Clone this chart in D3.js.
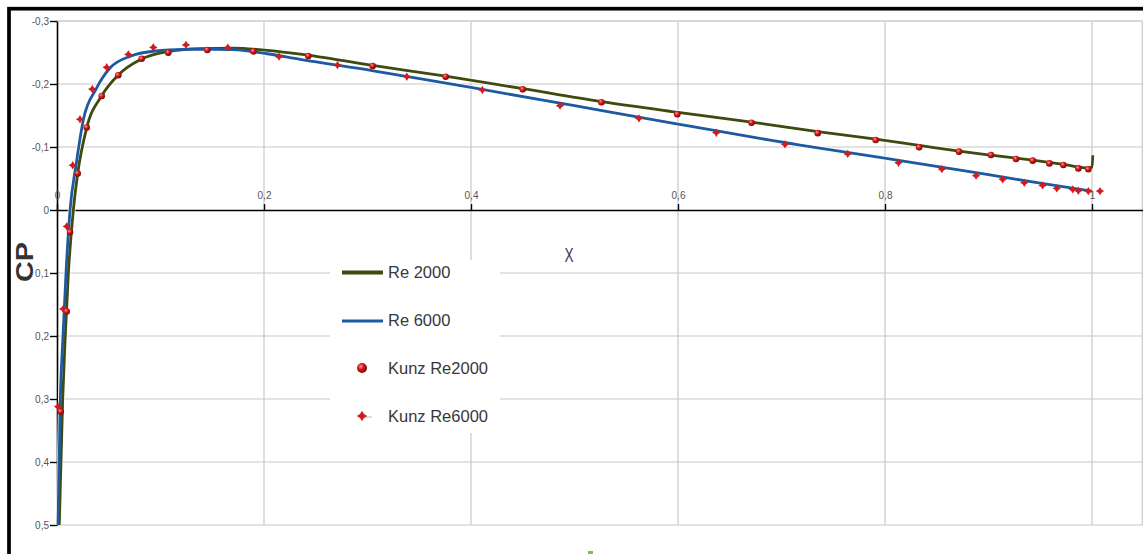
<!DOCTYPE html>
<html>
<head>
<meta charset="utf-8">
<script src="https://cdn.jsdelivr.net/npm/d3@7"></script>
<style>
  html, body { margin: 0; padding: 0; background: #fff; }
  svg { display: block; font-family: "Liberation Sans", Arial, sans-serif; }
</style>
</head>
<body>
<svg id="chart" width="1143" height="554"></svg>
<script>
// Axis ticks
const xTicks = [0, 0.2, 0.4, 0.6, 0.8, 1];
const yTicks = [-0.3, -0.2, -0.1, 0, 0.1, 0.2, 0.3, 0.4, 0.5];

// Series names
const seriesNames = ["Re 2000", "Re 6000", "Kunz Re2000", "Kunz Re6000"];

// Computed pressure coefficient, Re 2000
const re2000X  = [0.0022, 0.0055, 0.008, 0.011, 0.0158, 0.020, 0.0287, 0.0432, 0.0592, 0.0818, 0.1075, 0.138, 0.17, 0.203, 0.235, 0.305, 0.3755, 0.45, 0.526, 0.6, 0.671, 0.735, 0.791, 0.833, 0.8715, 0.9024, 0.9427, 0.9723, 0.996, 1.0, 1.0008];
const re2000Cp = [0.5, 0.3, 0.2, 0.1, 0, -0.058, -0.1306, -0.1814, -0.2143, -0.2397, -0.2515, -0.2562, -0.2568, -0.2535, -0.2475, -0.2295, -0.2125, -0.1925, -0.172, -0.155, -0.1395, -0.1245, -0.1125, -0.1025, -0.0935, -0.0870, -0.079, -0.0725, -0.067, -0.0675, -0.087];

// Computed pressure coefficient, Re 6000
const re6000X  = [0.001, 0.0032, 0.0058, 0.0087, 0.0126, 0.0184, 0.0256, 0.0377, 0.0512, 0.0715, 0.0947, 0.1237, 0.1527, 0.17, 0.203, 0.235, 0.3056, 0.37, 0.4, 0.5, 0.6, 0.718, 0.795, 0.9, 0.95, 1.0];
const re6000Cp = [0.5, 0.3, 0.2, 0.1, 0, -0.0714, -0.1444, -0.192, -0.2254, -0.2444, -0.2524, -0.2548, -0.2551, -0.2545, -0.2480, -0.2390, -0.2210, -0.2030, -0.1945, -0.1655, -0.1365, -0.1030, -0.0835, -0.0560, -0.0425, -0.0300];

// Reference data (Kunz), Re 2000
const kunz2000X  = [0.0036, 0.0094, 0.0126, 0.020, 0.0287, 0.0432, 0.0592, 0.0818, 0.1075, 0.1452, 0.1897, 0.2428, 0.305, 0.3755, 0.45, 0.526, 0.5993, 0.671, 0.735, 0.791, 0.833, 0.8715, 0.9024, 0.9266, 0.9427, 0.9588, 0.9723, 0.9868, 0.9964];
const kunz2000Cp = [0.32, 0.161, 0.035, -0.058, -0.131, -0.181, -0.214, -0.240, -0.2497, -0.254, -0.2518, -0.2444, -0.2286, -0.2116, -0.1915, -0.171, -0.152, -0.1386, -0.122, -0.111, -0.0995, -0.0926, -0.0873, -0.081, -0.0783, -0.074, -0.0714, -0.066, -0.0646];

// Reference data (Kunz), Re 6000
const kunz6000X  = [0.001, 0.006, 0.0094, 0.0152, 0.0222, 0.0341, 0.048, 0.0689, 0.093, 0.1246, 0.165, 0.2145, 0.271, 0.338, 0.411, 0.486, 0.5623, 0.637, 0.7034, 0.764, 0.813, 0.855, 0.888, 0.9137, 0.9346, 0.9523, 0.966, 0.9814, 0.9868, 0.9964, 1.0077];
const kunz6000Cp = [0.312, 0.157, 0.026, -0.071, -0.144, -0.192, -0.2265, -0.247, -0.258, -0.262, -0.2577, -0.2434, -0.230, -0.2116, -0.1905, -0.1656, -0.1455, -0.1227, -0.1043, -0.089, -0.075, -0.065, -0.0545, -0.0487, -0.0433, -0.039, -0.0344, -0.0328, -0.0306, -0.030, -0.030];

const zip = (xs, ys) => xs.map((v, i) => [v, ys[i]]);

const svg = d3.select("#chart");

const x = d3.scaleLinear().domain([0, 1.05]).range([57, 57 + 1035 * 1.05]);
const y = d3.scaleLinear().domain([-0.3, 0.5]).range([21, 525]);

const fmt = d3.formatLocale({ decimal: ",", thousands: ".", grouping: [3], currency: ["", "€"], minus: "-" }).format("~g");

const defs = svg.append("defs");
const grad = defs.append("radialGradient").attr("id", "ball")
  .attr("cx", "38%").attr("cy", "35%").attr("r", "65%");
grad.append("stop").attr("offset", "0%").attr("stop-color", "#ff9a9a");
grad.append("stop").attr("offset", "45%").attr("stop-color", "#d81818");
grad.append("stop").attr("offset", "100%").attr("stop-color", "#7a0606");

// Four-pointed marker shape
const star4 = {
  draw(ctx, size) {
    const r = Math.sqrt(size) / 2;
    const w = r * 0.38;
    ctx.moveTo(0, -r);
    ctx.lineTo(w, -w);
    ctx.lineTo(r, 0);
    ctx.lineTo(w, w);
    ctx.lineTo(0, r);
    ctx.lineTo(-w, w);
    ctx.lineTo(-r, 0);
    ctx.lineTo(-w, -w);
    ctx.closePath();
  }
};

// Gridlines
const grid = svg.append("g").attr("stroke", "#c8c8c8").attr("stroke-width", 1.2);
grid.selectAll("line.v").data(xTicks.filter(d => d !== 0)).join("line")
  .attr("x1", d => x(d)).attr("x2", d => x(d))
  .attr("y1", y(-0.3)).attr("y2", y(0.5));
grid.append("line")
  .attr("x1", x(1.05) - 1.5).attr("x2", x(1.05) - 1.5)
  .attr("y1", y(-0.3)).attr("y2", y(0.5));
grid.selectAll("line.h").data(yTicks.filter(d => d !== 0)).join("line")
  .attr("x1", x(0)).attr("x2", x(1.05))
  .attr("y1", d => y(d)).attr("y2", d => y(d))
  .attr("stroke", d => d === -0.3 ? "#d8d8d8" : "#c8c8c8")
  .attr("stroke-width", d => d === -0.3 ? 2 : 1.2);

// Axes
const axisY = svg.append("g").attr("transform", `translate(${x(0)},0)`)
  .call(d3.axisLeft(y).tickValues(yTicks).tickSize(7).tickPadding(1).tickSizeOuter(0).tickFormat(fmt));
const axisX = svg.append("g").attr("transform", `translate(0,${y(0)})`)
  .call(d3.axisTop(x).tickValues(xTicks).tickSize(6).tickPadding(5).tickSizeOuter(0).tickFormat(fmt));
[axisY, axisX].forEach(g => {
  g.attr("font-family", "Liberation Sans, Arial, sans-serif").attr("font-size", 10);
  g.select(".domain").attr("stroke", "#000").attr("stroke-width", 1.6);
  g.selectAll(".tick line").attr("stroke", "#000").attr("stroke-width", 1.4);
  g.selectAll(".tick text").attr("fill", "#555");
});

// Legend box
svg.append("rect").attr("x", 330).attr("y", 260).attr("width", 170).attr("height", 173).attr("fill", "#fff");

// Curves
const line = d3.line().x(d => x(d[0])).y(d => y(d[1])).curve(d3.curveMonotoneX);
const curves = [
  { data: zip(re2000X, re2000Cp), color: "#3d4b0f" },
  { data: zip(re6000X, re6000Cp), color: "#1d5a9f" }
];
curves.forEach(c => {
  svg.append("path").attr("d", line(c.data)).attr("fill", "none")
    .attr("stroke", "#fff").attr("stroke-width", 4.6).attr("stroke-opacity", 0.8);
});
curves.forEach(c => {
  svg.append("path").attr("d", line(c.data)).attr("fill", "none")
    .attr("stroke", c.color).attr("stroke-width", 2.8).attr("stroke-linejoin", "round");
});

// Reference markers
svg.append("g").selectAll("path").data(zip(kunz6000X, kunz6000Cp)).join("path")
  .attr("transform", d => `translate(${x(d[0])},${y(d[1])})`)
  .attr("d", d3.symbol(star4, 70)())
  .attr("fill", "#d41a1e");
svg.append("g").selectAll("circle").data(zip(kunz2000X, kunz2000Cp)).join("circle")
  .attr("cx", d => x(d[0])).attr("cy", d => y(d[1])).attr("r", 3.3)
  .attr("fill", "url(#ball)");

// Legend entries
const legend = svg.append("g").attr("font-size", 16.5).attr("fill", "#383838");
legend.append("line").attr("x1", 342).attr("x2", 383).attr("y1", 272.5).attr("y2", 272.5)
  .attr("stroke", "#3d4b0f").attr("stroke-width", 4);
legend.append("line").attr("x1", 342).attr("x2", 383).attr("y1", 321).attr("y2", 321)
  .attr("stroke", "#1d5a9f").attr("stroke-width", 3);
legend.append("circle").attr("cx", 362).attr("cy", 368).attr("r", 5).attr("fill", "url(#ball)");
legend.append("line").attr("x1", 362).attr("x2", 372).attr("y1", 417).attr("y2", 417)
  .attr("stroke", "#bbb").attr("stroke-width", 1);
legend.append("path").attr("transform", "translate(362,416)")
  .attr("d", d3.symbol(star4, 110)()).attr("fill", "#d41a1e");
const legendY = [277.5, 326, 374, 422];
legend.selectAll("text").data(seriesNames).join("text")
  .attr("x", 388).attr("y", (d, i) => legendY[i]).text(d => d);

// Axis titles
svg.append("text").attr("transform", "translate(33,262) rotate(-90)")
  .attr("text-anchor", "middle").attr("font-weight", "bold").attr("font-size", 24)
  .attr("textLength", 40).attr("lengthAdjust", "spacingAndGlyphs")
  .attr("fill", "#333").text("CP");
svg.append("text").attr("transform", "translate(569,262) scale(0.65,1)")
  .attr("text-anchor", "middle").attr("font-size", 21)
  .attr("fill", "#3a3d52").text("X");

// Small mark at the lower edge
svg.append("rect").attr("x", 588).attr("y", 551).attr("width", 5).attr("height", 3).attr("fill", "#79c142");

// Outer frame
svg.append("rect").attr("x", 9).attr("y", 8.7).attr("width", 1160).attr("height", 580)
  .attr("fill", "none").attr("stroke", "#000").attr("stroke-width", 3.7);
</script>
</body>
</html>
